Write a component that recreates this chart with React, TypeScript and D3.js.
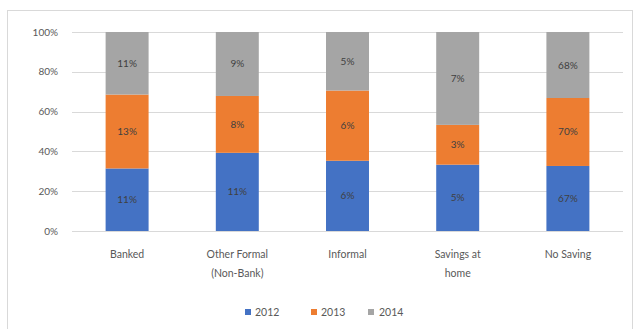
import React from "react";
import * as d3 from "d3";

const categories: string[][] = [
  ["Banked"],
  ["Other Formal", "(Non-Bank)"],
  ["Informal"],
  ["Savings at", "home"],
  ["No Saving"],
];
const seriesNames = ["2012", "2013", "2014"];
const values2012 = [11, 11, 6, 5, 67];
const values2013 = [13, 8, 6, 3, 70];
const values2014 = [11, 9, 5, 7, 68];
const yTicks = [0, 0.2, 0.4, 0.6, 0.8, 1];
const colors = ["#4472C4", "#ED7D31", "#A5A5A5"];

const W = 641;
const H = 329;
const FONT = "Lato, 'Liberation Sans', sans-serif";

export default function App() {
  const series = [values2012, values2013, values2014];
  const left = 72;
  const right = 623;
  const top = 32;
  const bottom = 231;
  const x = d3
    .scaleBand<number>()
    .domain(categories.map((_, i) => i))
    .range([left, right])
    .paddingInner(0.61)
    .paddingOuter(0.305);
  const y = d3.scaleLinear().domain([0, 1]).range([bottom, top]);

  const rows = categories.map((_, i) => ({
    i,
    v0: values2012[i],
    v1: values2013[i],
    v2: values2014[i],
  }));
  const stack = d3
    .stack<any>()
    .keys(["v0", "v1", "v2"])
    .offset(d3.stackOffsetExpand);
  const stacked = stack(rows);

  const legendItems = [
    { x: 245, tx: 255 },
    { x: 311, tx: 321 },
    { x: 368, tx: 379 },
  ];

  return (
    <svg
      width={W}
      height={H}
      style={{ position: "absolute", left: 0, top: 0, display: "block" }}
      fontFamily={FONT}
    >
      <rect x={0} y={0} width={W} height={H} fill="#fff" />
      <rect
        x={7.5}
        y={10.5}
        width={625}
        height={340}
        fill="#fff"
        stroke="#d9d9d9"
        strokeWidth={1}
      />
      {yTicks.map((t) => (
        <g key={t}>
          <line
            x1={left}
            x2={right}
            y1={Math.round(y(t)) + 0.5}
            y2={Math.round(y(t)) + 0.5}
            stroke="#d9d9d9"
          />
          <text
            x={58}
            y={y(t)}
            dy="0.35em"
            textAnchor="end"
            fontSize={10}
            fill="#595959"
          >
            {d3.format(".0%")(t)}
          </text>
        </g>
      ))}
      {stacked.map((layer, si) =>
        layer.map((d, ci) => {
          const x0 = x(ci)!;
          const y0 = y(d[1]);
          const y1 = y(d[0]);
          return (
            <g key={`${si}-${ci}`}>
              <rect
                x={x0}
                y={y0}
                width={x.bandwidth()}
                height={y1 - y0}
                fill={colors[si]}
              />
              <text
                x={x0 + x.bandwidth() / 2}
                y={(y0 + y1) / 2}
                dy="0.35em"
                textAnchor="middle"
                fontSize={10}
                fill="#404040"
              >
                {series[si][ci]}%
              </text>
            </g>
          );
        })
      )}
      {categories.map((lines, i) => (
        <text
          key={i}
          x={x(i)! + x.bandwidth() / 2}
          y={254}
          textAnchor="middle"
          fontSize={10.5}
          fill="#595959"
        >
          {lines.map((l, k) => (
            <tspan key={k} x={x(i)! + x.bandwidth() / 2} dy={k === 0 ? "0.35em" : 19}>
              {l}
            </tspan>
          ))}
        </text>
      ))}
      {seriesNames.map((s, i) => (
        <g key={s}>
          <rect x={legendItems[i].x} y={309} width={6} height={6} fill={colors[i]} />
          <text
            x={legendItems[i].tx}
            y={312}
            dy="0.35em"
            fontSize={10.5}
            fill="#595959"
          >
            {s}
          </text>
        </g>
      ))}
    </svg>
  );
}
